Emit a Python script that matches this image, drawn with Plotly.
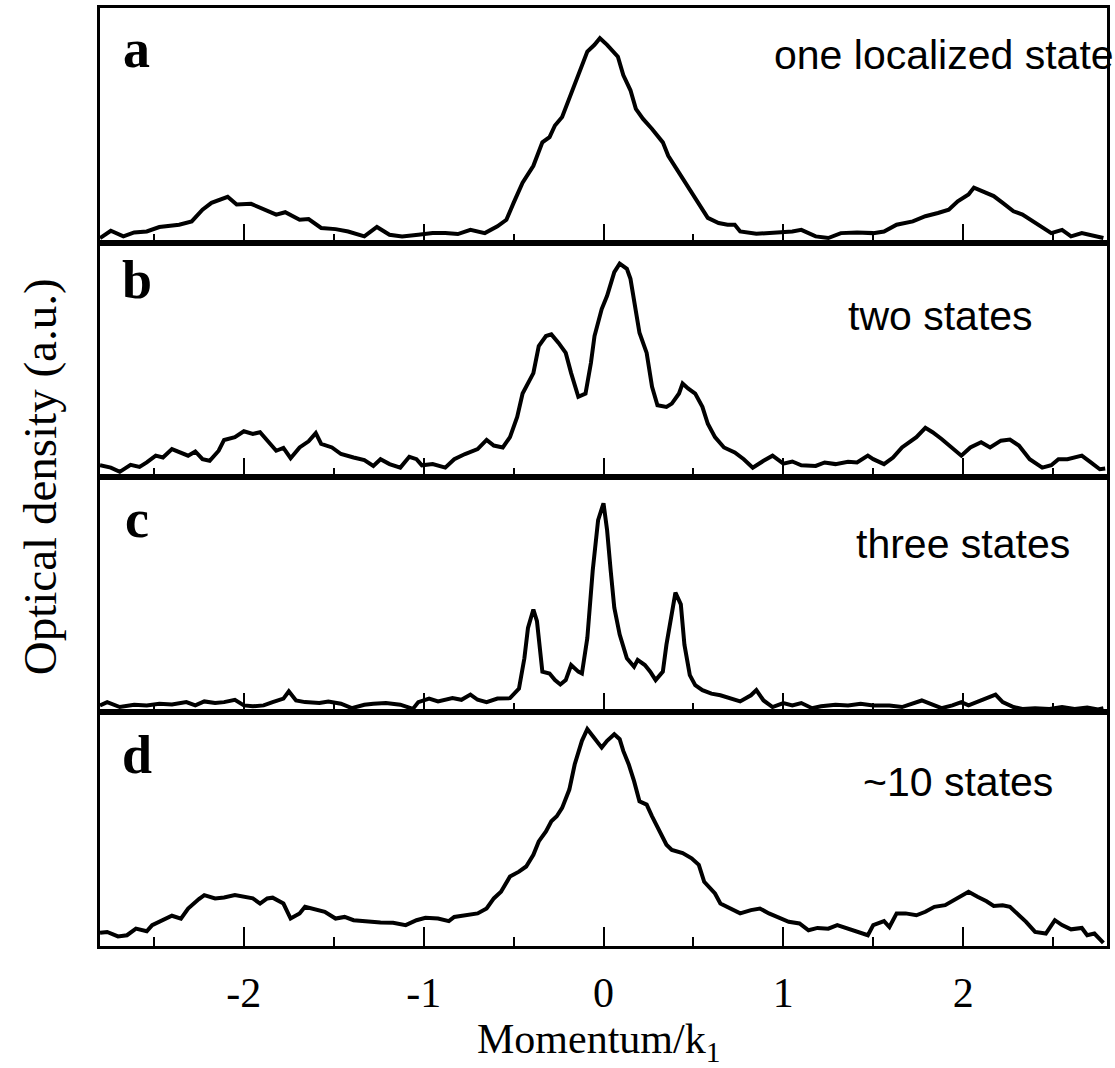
import plotly.graph_objects as go

# ---------------- data ----------------
momentum_a = [-2.80, -2.74, -2.67, -2.61, -2.54, -2.47, -2.36, -2.29, -2.23, -2.18,
              -2.09, -2.04, -1.96, -1.87, -1.82, -1.77, -1.69, -1.64, -1.57, -1.49,
              -1.42, -1.33, -1.26, -1.19, -1.12, -1.03, -0.95, -0.88, -0.81, -0.74,
              -0.66, -0.59, -0.54, -0.50, -0.45, -0.39, -0.34, -0.30, -0.27, -0.23,
              -0.19, -0.14, -0.09, -0.05, -0.02, 0.02, 0.08, 0.11, 0.15, 0.18,
              0.22, 0.27, 0.33, 0.36, 0.42, 0.47, 0.53, 0.58, 0.64, 0.69,
              0.73, 0.76, 0.85, 0.94, 1.05, 1.10, 1.18, 1.25, 1.32, 1.41,
              1.50, 1.56, 1.63, 1.72, 1.79, 1.86, 1.92, 1.97, 2.03, 2.06,
              2.12, 2.17, 2.22, 2.28, 2.33, 2.39, 2.44, 2.49, 2.55, 2.60,
              2.66, 2.73, 2.78]
density_a = [1.9, 5.0, 2.6, 4.3, 4.7, 6.6, 7.6, 9.0, 14.0, 16.9,
             19.5, 16.2, 16.5, 13.3, 11.9, 12.9, 9.7, 10.0, 6.2, 5.7,
             4.7, 2.6, 6.6, 3.3, 2.6, 3.3, 4.0, 4.0, 3.6, 5.4,
             4.0, 6.9, 9.7, 16.9, 25.5, 32.7, 42.7, 44.9, 49.9, 53.5,
             61.3, 71.4, 81.4, 84.3, 87.1, 84.3, 79.2, 71.4, 64.9, 57.0,
             52.7, 48.4, 42.7, 37.0, 29.8, 24.1, 16.9, 10.5, 8.3, 7.6,
             7.6, 4.7, 3.7, 4.0, 4.7, 5.4, 2.6, 1.9, 4.0, 4.3,
             4.0, 4.7, 7.6, 9.0, 11.2, 12.6, 14.0, 17.6, 20.5, 23.4,
             21.2, 19.8, 16.9, 13.3, 11.9, 9.0, 6.9, 4.0, 5.4, 2.6,
             4.0, 2.6, 1.9]

momentum_b = [-2.80, -2.74, -2.69, -2.63, -2.58, -2.54, -2.49, -2.45, -2.40, -2.36,
              -2.31, -2.27, -2.23, -2.19, -2.14, -2.11, -2.05, -2.00, -1.95, -1.91,
              -1.86, -1.82, -1.78, -1.74, -1.69, -1.64, -1.60, -1.57, -1.51, -1.46,
              -1.39, -1.33, -1.28, -1.24, -1.19, -1.13, -1.08, -1.04, -1.01, -0.95,
              -0.88, -0.83, -0.77, -0.70, -0.65, -0.61, -0.56, -0.52, -0.48, -0.45,
              -0.39, -0.36, -0.32, -0.29, -0.25, -0.21, -0.18, -0.14, -0.10, -0.07,
              -0.05, -0.01, 0.02, 0.06, 0.09, 0.13, 0.15, 0.17, 0.20, 0.24,
              0.27, 0.30, 0.35, 0.38, 0.42, 0.44, 0.47, 0.51, 0.55, 0.58,
              0.62, 0.67, 0.73, 0.78, 0.83, 0.89, 0.94, 1.00, 1.05, 1.10,
              1.18, 1.23, 1.29, 1.36, 1.41, 1.47, 1.50, 1.56, 1.61, 1.66,
              1.74, 1.79, 1.83, 1.88, 1.94, 1.99, 2.04, 2.10, 2.15, 2.21,
              2.26, 2.31, 2.37, 2.44, 2.49, 2.53, 2.58, 2.66, 2.71, 2.76,
              2.79]
density_b = [5.0, 4.0, 2.2, 5.2, 4.3, 6.2, 9.1, 8.3, 11.9, 10.5,
             9.1, 10.9, 7.6, 6.9, 11.2, 15.8, 17.0, 19.5, 18.4, 19.1,
             14.8, 11.2, 12.4, 8.0, 12.6, 15.2, 18.7, 14.1, 12.6, 9.8,
             8.3, 7.2, 4.7, 7.6, 5.5, 4.0, 8.6, 7.6, 5.0, 5.5,
             4.0, 7.6, 9.8, 11.9, 15.8, 13.4, 12.6, 17.0, 25.6, 35.6,
             44.3, 55.8, 60.1, 60.8, 57.2, 52.9, 44.3, 34.2, 35.6, 48.6,
             60.1, 71.6, 77.3, 87.4, 91.0, 88.8, 84.5, 74.4, 61.5, 52.9,
             38.5, 30.6, 29.9, 31.3, 35.6, 39.9, 37.8, 35.6, 29.9, 22.7,
             17.0, 12.6, 10.5, 7.6, 4.0, 6.9, 9.1, 5.7, 6.6, 5.0,
             4.7, 6.2, 5.5, 6.5, 6.2, 9.1, 7.6, 5.5, 8.3, 12.6,
             17.0, 21.0, 19.1, 16.2, 12.6, 9.1, 12.6, 14.8, 12.6, 15.5,
             16.0, 13.4, 7.6, 4.0, 5.0, 7.6, 7.6, 9.1, 6.2, 3.3,
             3.6]

momentum_c = [-2.80, -2.76, -2.69, -2.61, -2.54, -2.47, -2.40, -2.32, -2.27, -2.22,
              -2.16, -2.11, -2.05, -2.00, -1.95, -1.89, -1.84, -1.78, -1.75, -1.71,
              -1.66, -1.58, -1.53, -1.46, -1.40, -1.33, -1.28, -1.21, -1.13, -1.06,
              -1.03, -0.97, -0.92, -0.84, -0.79, -0.74, -0.70, -0.65, -0.59, -0.52,
              -0.47, -0.44, -0.42, -0.39, -0.37, -0.34, -0.30, -0.27, -0.24, -0.21,
              -0.18, -0.14, -0.12, -0.09, -0.06, -0.03, 0.00, 0.02, 0.04, 0.06,
              0.09, 0.13, 0.17, 0.19, 0.23, 0.26, 0.29, 0.33, 0.35, 0.38,
              0.40, 0.43, 0.45, 0.48, 0.51, 0.55, 0.60, 0.65, 0.71, 0.76,
              0.82, 0.85, 0.89, 0.94, 1.00, 1.05, 1.10, 1.16, 1.21, 1.29,
              1.36, 1.43, 1.50, 1.59, 1.66, 1.72, 1.77, 1.83, 1.88, 1.94,
              1.99, 2.03, 2.08, 2.13, 2.18, 2.22, 2.28, 2.33, 2.40, 2.48,
              2.55, 2.62, 2.69, 2.75, 2.78]
density_c = [2.6, 4.0, 1.9, 2.9, 2.6, 3.3, 3.0, 4.0, 2.6, 4.3,
             3.6, 4.0, 5.0, 2.6, 2.2, 2.6, 4.0, 5.5, 8.6, 4.7,
             4.0, 3.6, 4.3, 3.3, 1.4, 2.9, 3.3, 3.6, 2.9, 1.1,
             4.0, 5.5, 4.3, 5.7, 5.0, 7.2, 5.0, 4.0, 5.5, 5.7,
             9.8, 22.7, 35.6, 43.5, 38.5, 17.0, 16.2, 13.4, 11.5, 13.4,
             19.8, 17.0, 16.2, 31.3, 60.1, 81.6, 88.8, 77.3, 60.1, 44.3,
             32.8, 22.7, 19.1, 22.0, 19.8, 17.0, 13.4, 17.0, 28.5, 42.8,
             50.7, 45.7, 28.5, 15.5, 11.2, 9.1, 7.6, 6.9, 5.5, 4.3,
             6.9, 9.1, 4.7, 1.9, 3.6, 2.6, 3.6, 1.4, 2.2, 2.9,
             2.6, 3.3, 2.6, 2.6, 1.9, 3.3, 4.7, 2.9, 1.4, 2.6,
             4.0, 2.6, 4.0, 5.5, 7.2, 4.0, 1.9, 1.1, 1.4, 1.1,
             1.9, 1.1, 1.7, 0.9, 1.4]

momentum_d = [-2.80, -2.76, -2.70, -2.65, -2.60, -2.54, -2.51, -2.45, -2.40, -2.35,
              -2.31, -2.25, -2.22, -2.16, -2.11, -2.05, -2.00, -1.95, -1.91, -1.87,
              -1.84, -1.78, -1.74, -1.69, -1.66, -1.60, -1.55, -1.49, -1.44, -1.39,
              -1.31, -1.24, -1.17, -1.10, -1.04, -0.99, -0.92, -0.86, -0.83, -0.77,
              -0.70, -0.65, -0.61, -0.57, -0.52, -0.47, -0.43, -0.39, -0.36, -0.32,
              -0.29, -0.26, -0.23, -0.19, -0.16, -0.12, -0.09, -0.06, -0.01, 0.02,
              0.06, 0.09, 0.11, 0.14, 0.17, 0.20, 0.24, 0.27, 0.31, 0.35,
              0.38, 0.44, 0.49, 0.53, 0.56, 0.62, 0.65, 0.71, 0.76, 0.82,
              0.87, 0.92, 0.98, 1.03, 1.09, 1.14, 1.19, 1.25, 1.30, 1.36,
              1.41, 1.47, 1.50, 1.56, 1.59, 1.63, 1.68, 1.74, 1.79, 1.84,
              1.90, 1.97, 2.03, 2.08, 2.13, 2.17, 2.22, 2.26, 2.30, 2.35,
              2.40, 2.46, 2.51, 2.55, 2.60, 2.66, 2.69, 2.73, 2.78]
density_d = [5.6, 6.0, 4.1, 4.6, 7.4, 6.3, 8.9, 11.0, 12.9, 11.7,
             16.0, 20.0, 21.7, 20.3, 20.7, 21.7, 21.0, 20.3, 18.1, 20.3,
             20.6, 18.1, 11.7, 13.9, 16.7, 15.7, 14.6, 11.7, 12.4, 11.0,
             10.3, 10.0, 9.9, 8.9, 11.0, 12.0, 11.7, 10.6, 12.4, 12.9,
             13.9, 16.0, 20.3, 23.1, 29.6, 31.7, 33.9, 38.9, 44.6, 48.9,
             53.2, 55.3, 58.9, 66.7, 77.5, 87.5, 92.5, 89.6, 84.6, 87.5,
             90.3, 88.2, 83.2, 77.5, 70.3, 61.7, 60.3, 55.3, 48.9, 43.2,
             41.0, 39.6, 37.4, 34.6, 27.4, 22.4, 18.1, 15.7, 13.9, 15.3,
             16.0, 13.9, 11.7, 10.3, 9.6, 6.7, 7.7, 7.4, 8.9, 7.4,
             6.0, 4.6, 8.9, 10.6, 8.1, 13.9, 13.9, 13.1, 14.6, 16.7,
             17.4, 20.6, 23.1, 21.0, 19.1, 17.1, 17.4, 16.7, 13.9, 10.3,
             6.0, 5.3, 11.0, 8.9, 7.1, 7.7, 4.6, 5.3, 1.3]

panel_letters = ["a", "b", "c", "d"]
panel_notes = ["one localized state", "two states", "three states", "~10 states"]
tick_values = [-2, -1, 0, 1, 2]
tick_labels = ["-2", "-1", "0", "1", "2"]
x_title = "Momentum/k<sub>1</sub>"
y_title = "Optical density (a.u.)"

series = [(momentum_a, density_a), (momentum_b, density_b),
          (momentum_c, density_c), (momentum_d, density_d)]

# ---------------- figure ----------------
SERIF = "Liberation Serif, Times New Roman, serif"
SANS = "Liberation Sans, Arial, sans-serif"

fig = go.Figure()
layout = dict(
    width=1115, height=1068,
    margin=dict(l=100, r=5, t=7, b=122, pad=0),
    paper_bgcolor="white", plot_bgcolor="white",
    showlegend=False,
)

letter_y = [0.825, 0.838, 0.821, 0.813]
note_y = [0.80, 0.685, 0.715, 0.70]
note_x = [1.009, 0.7406, 0.7485, 0.7554]
note_anchor = ["right", "left", "left", "left"]

annotations = []
for i, (xs, ys) in enumerate(series):
    n = i + 1
    sfx = "" if n == 1 else str(n)
    fig.add_trace(go.Scatter(
        x=xs, y=ys, mode="lines",
        line=dict(color="black", width=4),
        xaxis="x" + sfx, yaxis="y" + sfx, hoverinfo="skip",
    ))
    lo = 1 - 0.25 * (i + 1)
    hi = 1 - 0.25 * i
    layout["xaxis" + sfx] = dict(
        domain=[0, 1], anchor="y" + sfx, range=[-2.8, 2.8],
        showline=True, mirror=True, linecolor="black", linewidth=2.5,
        ticks="inside", ticklen=19, tickwidth=2, tickcolor="black",
        tickmode="array", tickvals=tick_values, ticktext=tick_labels,
        showticklabels=(i == 3), ticklabelstandoff=8,
        tickfont=dict(family=SERIF, size=42, color="black"),
        minor=dict(ticks="inside", ticklen=9, tickwidth=2, tickcolor="black",
                   dtick=0.5, tick0=0, showgrid=False),
        showgrid=False, zeroline=False, fixedrange=True,
    )
    layout["yaxis" + sfx] = dict(
        domain=[lo, hi], anchor="x" + sfx, range=[0, 100],
        showline=True, mirror=True, linecolor="black", linewidth=2.5,
        showticklabels=False, ticks="", showgrid=False, zeroline=False,
        fixedrange=True,
    )
    annotations.append(dict(
        text="<b>" + panel_letters[i] + "</b>", xref="paper", yref="y" + sfx + " domain",
        x=0.0366, y=letter_y[i], xanchor="center", yanchor="middle",
        showarrow=False, font=dict(family=SERIF, size=54, color="black"),
    ))
    annotations.append(dict(
        text=panel_notes[i], xref="paper", yref="y" + sfx + " domain",
        x=note_x[i], y=note_y[i], xanchor=note_anchor[i], yanchor="middle",
        showarrow=False, font=dict(family=SANS, size=41, color="black"),
    ))

annotations.append(dict(
    text=x_title, xref="paper", yref="paper", x=0.495, y=-0.102,
    xanchor="center", yanchor="middle", showarrow=False,
    font=dict(family=SERIF, size=42, color="black"),
))
annotations.append(dict(
    text=y_title, xref="paper", yref="paper", x=-0.0594, y=0.5,
    xanchor="center", yanchor="middle", textangle=-90, showarrow=False,
    font=dict(family=SERIF, size=47, color="black"),
))
layout["annotations"] = annotations
fig.update_layout(**layout)

fig.write_html("out.html")
